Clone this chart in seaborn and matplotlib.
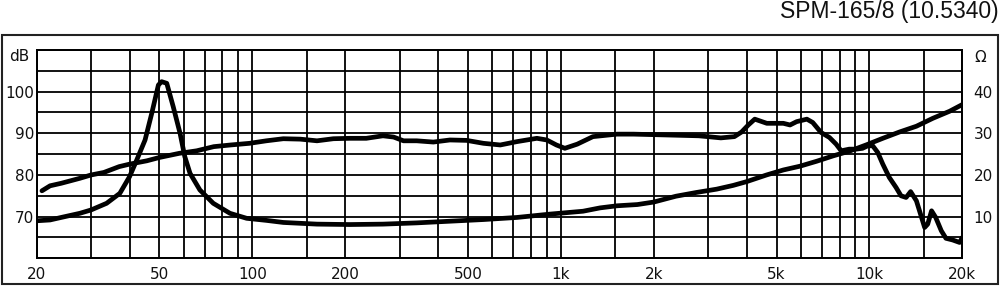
import matplotlib
matplotlib.use("Agg")
import matplotlib.pyplot as plt
import seaborn as sns
import pandas as pd
from matplotlib.patches import Rectangle

# ---------------- data ----------------
spl_freq = [20.8, 22.1, 24.0, 27.6, 30, 33, 37, 40, 45.5, 50, 58, 66, 75, 85, 98,
            111, 126, 143, 162, 183, 207, 234, 265, 287, 309, 341, 386, 437, 495,
            561, 636, 720, 836, 900, 967, 1030, 1130, 1270, 1520, 1720, 2200, 2800,
            3300, 3650, 3850, 4050, 4250, 4650, 5260, 5530, 5810, 6270, 6550, 6970,
            7420, 7800, 8100, 8600, 9050, 9500, 9880, 10250, 10640, 11050, 11600,
            12200, 12660, 13150, 13600, 14200, 14700, 15100, 15450, 15900, 16400,
            17100, 17700, 18600, 19600, 20000]
spl_db = [76.2, 77.4, 78.0, 79.2, 80.0, 80.6, 82.0, 82.6, 83.4, 84.2, 85.2, 85.8, 86.8,
          87.2, 87.6, 88.2, 88.7, 88.6, 88.2, 88.7, 88.8, 88.8, 89.4, 89.1, 88.2, 88.2,
          87.9, 88.4, 88.3, 87.6, 87.2, 88.0, 88.8, 88.4, 87.2, 86.4, 87.4, 89.2, 89.8,
          89.8, 89.6, 89.4, 88.9, 89.2, 90.3, 92.0, 93.4, 92.4, 92.4, 92.0, 92.8, 93.4,
          92.6, 90.2, 89.0, 87.4, 85.8, 86.2, 86.2, 86.4, 87.0, 87.0, 85.4, 82.6, 79.4,
          77.0, 75.0, 74.6, 76.0, 73.8, 70.2, 67.4, 68.2, 71.4, 69.8, 66.6, 64.8, 64.4,
          63.8, 65.0]

imp_freq = [20, 22.1, 24, 27.6, 30, 33.7, 37.2, 40, 42.2, 44.9, 47.2, 49.6, 50.8, 52.8,
            55.4, 58.3, 60.4, 62.8, 67.6, 74.7, 84.6, 95.8, 111, 126, 162, 207, 265,
            341, 437, 561, 720, 920, 1180, 1340, 1520, 1770, 2000, 2360, 2750, 3200,
            3620, 4000, 4640, 5260, 5950, 6750, 7640, 8600, 9750, 11050, 12500, 14200,
            16050, 18200, 20000]
imp_ohm = [9.0, 9.2, 9.8, 10.8, 11.6, 13.2, 15.6, 19.6, 23.6, 28.4, 34.8, 41.6, 42.4, 42.0,
           36.4, 30.0, 24.4, 20.4, 16.4, 13.2, 10.8, 9.6, 9.1, 8.6, 8.2, 8.1, 8.2, 8.5,
           8.9, 9.3, 9.8, 10.6, 11.3, 12.1, 12.6, 12.9, 13.5, 14.9, 15.8, 16.6, 17.5,
           18.4, 20.0, 21.2, 22.1, 23.3, 24.6, 25.7, 27.2, 28.8, 30.3, 31.7, 33.6, 35.3,
           36.9]

x_grid = [20, 30, 40, 50, 60, 70, 80, 90,
          100, 150, 200, 300, 400, 500, 600, 700, 800, 900,
          1000, 1500, 2000, 3000, 4000, 5000, 6000, 7000, 8000, 9000,
          10000, 15000, 20000]
x_labels = {20: "20", 50: "50", 100: "100", 200: "200", 500: "500",
            1000: "1k", 2000: "2k", 5000: "5k", 10000: "10k", 20000: "20k"}
db_grid = [60, 65, 70, 75, 80, 85, 90, 95, 100, 105, 110]
db_labels = {70: "70", 80: "80", 90: "90", 100: "100"}
ohm_ticks = [10, 20, 30, 40]
title = "SPM-165/8 (10.5340)"

# ---------------- figure ----------------
sns.set_style("white")
plt.rcParams["font.family"] = ["DejaVu Sans"]

fig = plt.figure(figsize=(10, 2.86), dpi=100)
ax = fig.add_axes([0.0367, 0.0969, 0.9256, 0.7283])
ax2 = ax.twinx()

spl_df = pd.DataFrame({"f": spl_freq, "v": spl_db})
imp_df = pd.DataFrame({"f": imp_freq, "v": imp_ohm})

LW = 3.4
sns.lineplot(data=spl_df, x="f", y="v", ax=ax, color="black", linewidth=LW,
             estimator=None, sort=False, solid_joinstyle="round", solid_capstyle="round")
sns.lineplot(data=imp_df, x="f", y="v", ax=ax2, color="black", linewidth=LW,
             estimator=None, sort=False, solid_joinstyle="round", solid_capstyle="round")

for a in (ax, ax2):
    a.set_xscale("log")
    a.set_xlim(20, 20000)
    a.set_xlabel("")
    a.set_ylabel("")
ax.set_ylim(60, 110)
ax2.set_ylim(0, 50)

ax.set_xticks(x_grid)
ax.set_xticklabels([x_labels.get(v, "") for v in x_grid])
ax.xaxis.set_minor_locator(matplotlib.ticker.NullLocator())
ax.set_yticks(db_grid)
ax.set_yticklabels([db_labels.get(v, "") for v in db_grid])
ax2.set_yticks(ohm_ticks)
ax2.set_yticklabels([str(v) for v in ohm_ticks])
ax2.xaxis.set_minor_locator(matplotlib.ticker.NullLocator())

ax.grid(True, which="major", color="black", linewidth=1.3)
ax.set_axisbelow(True)
ax.tick_params(axis="x", length=0, pad=6, labelsize=11, colors="#111111")
ax.tick_params(axis="y", length=0, pad=2, labelsize=11, colors="#111111")
ax2.tick_params(axis="y", length=0, pad=8, labelsize=11, colors="#111111")
for a in (ax, ax2):
    for s in a.spines.values():
        s.set_color("black")
        s.set_linewidth(1.3)

fig.text(19 / 1000, 1 - 56.5 / 286, "dB", ha="center", va="center", fontsize=11, color="#111111")
fig.text(980 / 1000, 1 - 57 / 286, "\u03a9", ha="center", va="center", fontsize=11, color="#111111")
fig.text(0.999, 1 - 11.5 / 286, title, ha="right", va="center", fontsize=16.5,
         family=["Liberation Sans", "DejaVu Sans"], color="#111111")

fig.patches.append(Rectangle((0.0015, 2 / 286), 0.9965, 249 / 286, transform=fig.transFigure,
                             fill=False, edgecolor="#222222", linewidth=1.5))

fig.savefig("out.png", dpi=100)
